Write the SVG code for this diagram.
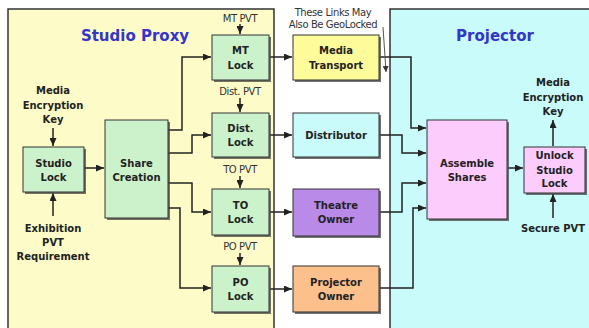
<svg xmlns="http://www.w3.org/2000/svg" width="589" height="328" viewBox="0 0 589 328">
<style>
.panel{stroke:#333;stroke-width:1.5}
.sh{fill:#444;opacity:0.75}
.box{stroke:#333;stroke-width:1}
.g{fill:#ccf2cc}
.t{font-family:"DejaVu Sans",Verdana,sans-serif;font-weight:bold;font-size:10px;fill:#222;text-anchor:middle}
.s{font-family:"DejaVu Sans",Verdana,sans-serif;font-size:10px;fill:#333;text-anchor:middle;letter-spacing:-0.4px}
.h{font-family:"DejaVu Sans",Verdana,sans-serif;font-weight:bold;font-size:15px;fill:#3535c8;text-anchor:middle}
.c{fill:none;stroke:#222;stroke-width:1.5;marker-end:url(#a)}
</style>
<defs>
<marker id="a" markerUnits="userSpaceOnUse" markerWidth="8" markerHeight="7" refX="8" refY="3.5" orient="auto"><path d="M0,0 L8,3.5 L0,7 z" fill="#222"/></marker>
<marker id="b" markerUnits="userSpaceOnUse" markerWidth="6" markerHeight="6" refX="6" refY="3" orient="auto"><path d="M0,0 L6,3 L0,6 z" fill="#333"/></marker>
</defs>
<rect width="589" height="328" fill="#fff"/>
<g id="studio_proxy">
<rect class="panel" x="8" y="9" width="266" height="330" fill="#fdfcc8"/>
<text class="h" x="135" y="41">Studio Proxy</text>
</g>
<g id="projector">
<rect class="panel" x="390" y="9" width="210" height="330" fill="#c9fbfb"/>
<text class="h" x="495" y="41">Projector</text>
</g>
<g id="connectors">
<path class="c" d="M84,168 H104"/>
<path class="c" d="M168,130 H182 V57 H211"/>
<path class="c" d="M168,153 H192 V135 H211"/>
<path class="c" d="M168,183 H192 V212 H211"/>
<path class="c" d="M168,208 H180 V288 H211"/>
<path class="c" d="M270,57 H292"/>
<path class="c" d="M270,135 H292"/>
<path class="c" d="M270,212 H292"/>
<path class="c" d="M270,289 H292"/>
<path class="c" d="M380,57 H411 V128 H426"/>
<path class="c" d="M380,135 H402 V153 H426"/>
<path class="c" d="M380,212 H402 V183 H426"/>
<path class="c" d="M380,288 H413 V208 H426"/>
<path class="c" d="M508,168 H523"/>
<path class="c" d="M553,146 V120"/>
<path class="c" d="M553,218 V194"/>
<path class="c" d="M53,128 V146"/>
<path class="c" d="M53,216 V193"/>
<path class="c" d="M240,24 V34"/>
<path class="c" d="M240,98 V112"/>
<path class="c" d="M240,176 V188"/>
<path class="c" d="M240,253 V265"/>
<path d="M383,27 L386,72" fill="none" stroke="#555" stroke-width="1" marker-end="url(#b)"/>
</g>
<g id="labels">
<text class="t" x="53" y="94">Media</text>
<text class="t" x="53" y="108.5">Encryption</text>
<text class="t" x="53" y="123">Key</text>
<text class="t" x="53" y="231.5">Exhibition</text>
<text class="t" x="53" y="245.5">PVT</text>
<text class="t" x="53" y="259.5">Requirement</text>
<text class="t" x="553" y="86">Media</text>
<text class="t" x="553" y="100.5">Encryption</text>
<text class="t" x="553" y="115">Key</text>
<text class="t" x="553" y="231.5">Secure PVT</text>
<text class="s" x="240" y="22">MT PVT</text>
<text class="s" x="240" y="95">Dist. PVT</text>
<text class="s" x="240" y="173">TO PVT</text>
<text class="s" x="240" y="250">PO PVT</text>
<text class="s" x="333" y="16">These Links May</text>
<text class="s" x="333" y="28">Also Be GeoLocked</text>
</g>
<g id="studio_lock">
<rect class="sh" x="25" y="149" width="61" height="45"/>
<rect class="box g" x="23" y="147" width="61" height="45"/>
<text class="t" x="53.5" y="166.5">Studio</text>
<text class="t" x="53.5" y="180.5">Lock</text>
</g>
<g id="share_creation">
<rect class="sh" x="107" y="122" width="63" height="98"/>
<rect class="box g" x="105" y="120" width="63" height="98"/>
<text class="t" x="136.5" y="166.5">Share</text>
<text class="t" x="136.5" y="180.5">Creation</text>
</g>
<g id="mt_lock">
<rect class="sh" x="214" y="37" width="57" height="45"/>
<rect class="box g" x="212" y="35" width="57" height="45"/>
<text class="t" x="240.5" y="54">MT</text>
<text class="t" x="240.5" y="68.5">Lock</text>
</g>
<g id="dist_lock">
<rect class="sh" x="214" y="115" width="57" height="44"/>
<rect class="box g" x="212" y="113" width="57" height="44"/>
<text class="t" x="240.5" y="132">Dist.</text>
<text class="t" x="240.5" y="146">Lock</text>
</g>
<g id="to_lock">
<rect class="sh" x="214" y="191" width="57" height="46"/>
<rect class="box g" x="212" y="189" width="57" height="46"/>
<text class="t" x="240.5" y="209">TO</text>
<text class="t" x="240.5" y="223">Lock</text>
</g>
<g id="po_lock">
<rect class="sh" x="214" y="268" width="57" height="46"/>
<rect class="box g" x="212" y="266" width="57" height="46"/>
<text class="t" x="240.5" y="286">PO</text>
<text class="t" x="240.5" y="299.5">Lock</text>
</g>
<g id="media_transport">
<rect class="sh" x="295" y="37" width="86" height="45"/>
<rect class="box" x="293" y="35" width="86" height="45" fill="#fdfb9a"/>
<text class="t" x="336" y="54">Media</text>
<text class="t" x="336" y="68.5">Transport</text>
</g>
<g id="distributor">
<rect class="sh" x="295" y="115" width="86" height="44"/>
<rect class="box" x="293" y="113" width="86" height="44" fill="#c9fbfb"/>
<text class="t" x="336" y="139">Distributor</text>
</g>
<g id="theatre_owner">
<rect class="sh" x="295" y="191" width="86" height="47"/>
<rect class="box" x="293" y="189" width="86" height="47" fill="#b98ae8"/>
<text class="t" x="336" y="209">Theatre</text>
<text class="t" x="336" y="223">Owner</text>
</g>
<g id="projector_owner">
<rect class="sh" x="295" y="268" width="86" height="46"/>
<rect class="box" x="293" y="266" width="86" height="46" fill="#fcc08c"/>
<text class="t" x="336" y="286">Projector</text>
<text class="t" x="336" y="299.5">Owner</text>
</g>
<g id="assemble_shares">
<rect class="sh" x="429" y="122" width="80" height="99"/>
<rect class="box" x="427" y="120" width="80" height="99" fill="#fcccfc"/>
<text class="t" x="467" y="166.5">Assemble</text>
<text class="t" x="467" y="180.5">Shares</text>
</g>
<g id="unlock_studio_lock">
<rect class="sh" x="526" y="149" width="61" height="46"/>
<rect class="box" x="524" y="147" width="61" height="46" fill="#fcccfc"/>
<text class="t" x="554.5" y="159">Unlock</text>
<text class="t" x="554.5" y="173.5">Studio</text>
<text class="t" x="554.5" y="187">Lock</text>
</g>
</svg>
